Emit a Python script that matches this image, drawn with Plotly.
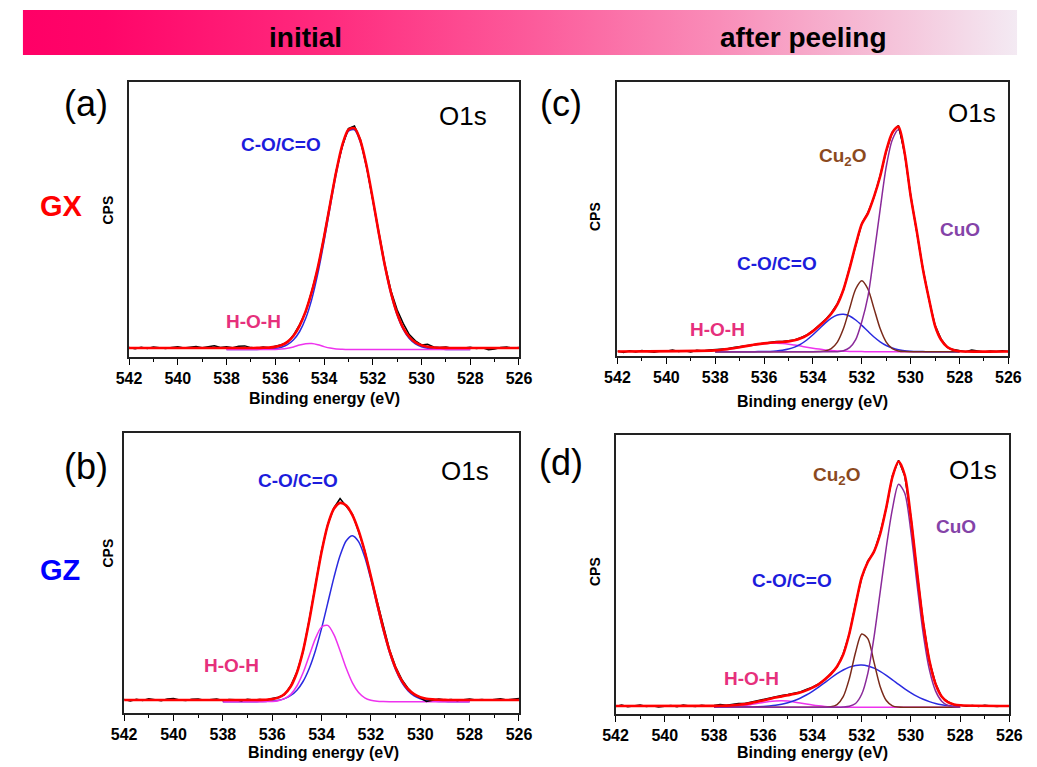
import plotly.graph_objects as go

W, H = 1037, 767
FONT = "Liberation Sans, Arial, sans-serif"

# ---------------- data ----------------
ENERGY_TICKS = [542, 540, 538, 536, 534, 532, 530, 528, 526]
MINOR_TICKS = [541, 539, 537, 535, 533, 531, 529, 527]

RAW_X = [542.0, 541.75, 541.5, 541.25, 541.0, 540.75, 540.5, 540.25, 540.0, 539.75,
         539.5, 539.25, 539.0, 538.75, 538.5, 538.25, 538.0, 537.75, 537.5, 537.25,
         537.0, 536.75, 536.5, 536.25, 536.0, 535.75, 535.5, 535.25, 535.0, 534.75,
         534.5, 534.25, 534.0, 533.75, 533.5, 533.25, 533.0, 532.75, 532.5, 532.25,
         532.0, 531.75, 531.5, 531.25, 531.0, 530.75, 530.5, 530.25, 530.0, 529.75,
         529.5, 529.25, 529.0, 528.75, 528.5, 528.25, 528.0, 527.75, 527.5, 527.25,
         527.0, 526.75, 526.5, 526.25, 526.0]

FIT_X = [538.0, 537.75, 537.5, 537.25, 537.0, 536.75, 536.5, 536.25, 536.0, 535.75,
         535.5, 535.25, 535.0, 534.75, 534.5, 534.25, 534.0, 533.75, 533.5, 533.25,
         533.0, 532.75, 532.5, 532.25, 532.0, 531.75, 531.5, 531.25, 531.0, 530.75,
         530.5, 530.25, 530.0, 529.75, 529.5, 529.25, 529.0, 528.75, 528.5, 528.25,
         528.0]
X_START, X_END = 542.0, 526.0

# ---- panel (a): GX initial ----
A_BASE = 9.0
A_RAW = [9.5, 8.2, 9.8, 8.6, 9.9, 9.1, 8.4, 9.6, 10.2, 9.0,
         9.7, 10.4, 9.3, 10.1, 11.2, 9.6, 10.3, 9.2, 10.8, 11.1,
         9.4, 8.8, 9.9, 9.2, 10.6, 12.3, 14.6, 21.9, 32.5, 45.1,
         66.0, 89.2, 120.5, 152.0, 186.4, 211.0, 228.5, 231.0, 216.9, 190.1,
         159.2, 124.8, 92.4, 66.0, 47.3, 33.6, 22.5, 16.2, 12.1, 12.8,
         10.0, 9.4, 10.1, 8.7, 9.3, 8.9, 9.8, 8.5, 9.2, 7.3,
         8.1, 9.6, 9.9, 8.8, 9.4]
A_FIT = [9.0, 9.0, 9.0, 9.0, 9.0, 9.1, 9.2, 9.4, 10.1, 11.7,
         15.1, 21.3, 31.4, 45.9, 65.3, 90.0, 119.7, 152.8, 185.2, 211.8,
         227.3, 228.8, 215.8, 190.8, 158.3, 123.6, 91.2, 64.1, 43.5, 29.2,
         20.0, 14.6, 11.7, 10.2, 9.5, 9.2, 9.1, 9.0, 9.0, 9.0,
         9.0]
A_CO = [7.5, 7.5, 7.5, 7.5, 7.5, 7.6, 7.7, 7.9, 8.5, 9.8,
        12.4, 17.2, 25.5, 38.7, 57.9, 83.8, 115.3, 149.9, 183.2, 210.1,
        225.8, 227.3, 214.3, 189.3, 156.8, 122.1, 89.7, 62.6, 42.0, 27.7,
        18.5, 13.1, 10.2, 8.7, 8.0, 7.7, 7.6, 7.5, 7.5, 7.5,
        7.5]
A_HOH = [7.5, 7.5, 7.5, 7.5, 7.5, 7.5, 7.5, 7.5, 7.6, 7.9,
         8.7, 10.1, 11.9, 13.2, 13.4, 12.2, 10.4, 8.9, 8.0, 7.7,
         7.5, 7.5, 7.5, 7.5, 7.5, 7.5, 7.5, 7.5, 7.5, 7.5,
         7.5, 7.5, 7.5, 7.5, 7.5, 7.5, 7.5, 7.5, 7.5, 7.5,
         7.5]

# ---- panel (b): GZ initial ----
B_BASE = 13.0
B_RAW = [13.4, 12.1, 13.8, 12.6, 14.2, 13.0, 12.2, 13.9, 14.4, 13.1,
         12.5, 13.7, 14.1, 12.8, 13.3, 14.0, 12.4, 13.6, 13.2, 12.3,
         13.8, 12.9, 13.5, 12.8, 14.6, 15.8, 18.4, 27.3, 40.9, 61.3,
         93.0, 126.5, 162.4, 188.6, 205.1, 214.5, 206.8, 198.9, 181.6, 162.3,
         136.0, 111.2, 85.3, 63.5, 46.2, 33.6, 24.7, 18.3, 15.2, 11.6,
         12.8, 13.9, 12.9, 13.5, 12.6, 13.3, 14.1, 12.9, 13.4, 12.7,
         13.6, 14.2, 13.1, 13.8, 14.6]
B_FIT = [13.0, 13.0, 13.0, 13.0, 13.0, 13.0, 13.1, 13.3, 13.9, 15.4,
         19.1, 26.5, 40.2, 62.1, 92.2, 127.1, 161.0, 187.9, 204.2, 210.1,
         207.4, 197.9, 182.3, 161.5, 136.5, 109.9, 84.5, 62.4, 45.0, 32.4,
         24.0, 18.8, 15.9, 14.3, 13.6, 13.2, 13.1, 13.0, 13.0, 13.0,
         13.0]
B_CO = [11.3, 11.3, 11.3, 11.3, 11.3, 11.3, 11.4, 11.6, 11.9, 12.7,
        14.4, 17.5, 22.8, 31.5, 44.5, 62.3, 84.6, 109.9, 135.4, 157.4,
        172.3, 177.3, 171.4, 155.9, 133.4, 107.8, 82.7, 60.7, 43.3, 30.7,
        22.3, 17.1, 14.2, 12.6, 11.9, 11.5, 11.4, 11.3, 11.3, 11.3,
        11.3]
B_HOH = [11.3, 11.3, 11.3, 11.3, 11.3, 11.3, 11.3, 11.4, 11.6, 12.3,
         14.3, 18.6, 27.0, 40.2, 57.3, 74.4, 86.0, 87.6, 78.4, 62.3,
         44.7, 30.2, 20.5, 15.2, 12.7, 11.7, 11.4, 11.3, 11.3, 11.3,
         11.3, 11.3, 11.3, 11.3, 11.3, 11.3, 11.3, 11.3, 11.3, 11.3,
         11.3]

# ---- panel (c): GX after peeling ----
C_BASE = 4.5
C_RAW = [4.9, 3.6, 5.2, 4.1, 5.4, 4.6, 3.8, 5.1, 4.7, 6.0,
         4.4, 5.3, 4.0, 5.7, 5.0, 5.9, 6.1, 6.8, 7.2, 8.4,
         9.3, 10.2, 11.6, 12.3, 13.4, 13.6, 14.5, 14.6, 15.4, 16.1,
         18.2, 21.0, 25.3, 30.6, 36.1, 43.0, 52.4, 66.0, 88.3, 110.6,
         132.5, 143.4, 158.7, 180.2, 204.8, 223.9, 230.6, 203.1, 160.8, 124.0,
         87.6, 56.4, 30.7, 16.8, 8.6, 6.4, 5.5, 4.2, 6.0, 4.8,
         3.9, 5.0, 4.4, 5.3, 4.6]
C_FIT = [5.6, 6.2, 6.9, 7.8, 8.8, 9.9, 10.9, 11.9, 12.6, 13.2,
         13.7, 14.0, 14.6, 15.7, 17.7, 20.7, 24.9, 30.0, 35.7, 42.3,
         51.6, 66.5, 87.6, 111.1, 131.9, 142.6, 159.3, 179.5, 205.3, 223.3,
         229.3, 203.6, 160.0, 124.7, 87.1, 57.0, 30.0, 16.0, 9.0, 6.0,
         4.8]
C_CUO = [4.3, 4.3, 4.3, 4.3, 4.3, 4.3, 4.3, 4.3, 4.3, 4.3,
         4.3, 4.3, 4.3, 4.3, 4.3, 4.3, 4.3, 4.3, 4.3, 4.3,
         4.3, 5.3, 8.3, 16.3, 34.3, 59.3, 101.3, 146.3, 189.3, 216.3,
         226.3, 202.3, 159.3, 124.3, 86.8, 56.8, 29.8, 15.8, 8.8, 5.8,
         4.6]
C_CU2O = [4.3, 4.3, 4.3, 4.3, 4.3, 4.3, 4.3, 4.3, 4.3, 4.3,
          4.3, 4.3, 4.3, 4.3, 4.3, 4.3, 4.3, 4.5, 5.1, 7.4,
          13.9, 27.4, 47.4, 67.0, 75.3, 67.0, 47.4, 27.4, 13.9, 7.4,
          5.1, 4.4, 4.3, 4.3, 4.3, 4.3, 4.3, 4.3, 4.3, 4.3,
          4.3]
C_CO = [4.3, 4.3, 4.3, 4.3, 4.3, 4.3, 4.3, 4.4, 4.4, 4.6,
        5.0, 5.7, 6.9, 8.9, 11.9, 16.0, 21.2, 27.0, 32.9, 37.8,
        41.0, 41.7, 40.0, 36.0, 30.6, 24.7, 19.0, 14.2, 10.5, 8.0,
        6.3, 5.3, 4.8, 4.5, 4.4, 4.3, 4.3, 4.3, 4.3, 4.3,
        4.3]
C_HOH = [5.4, 6.0, 6.7, 7.6, 8.6, 9.7, 10.7, 11.6, 12.3, 12.7,
         12.8, 12.4, 11.8, 10.9, 9.9, 8.8, 7.8, 6.9, 6.1, 5.5,
         5.1, 4.8, 4.6, 4.5, 4.4, 4.3, 4.3, 4.3, 4.3, 4.3,
         4.3, 4.3, 4.3, 4.3, 4.3, 4.3, 4.3, 4.3, 4.3, 4.3,
         4.3]

# ---- panel (d): GZ after peeling ----
D_BASE = 8.0
D_RAW = [7.6, 8.9, 7.2, 8.4, 9.1, 7.5, 8.2, 6.9, 7.8, 8.6,
         7.3, 9.0, 8.1, 7.4, 8.8, 7.9, 8.5, 9.4, 8.8, 9.9,
         10.4, 10.6, 12.0, 13.3, 14.5, 16.1, 17.0, 18.6, 19.4, 20.9,
         22.1, 24.5, 26.9, 30.2, 34.0, 40.8, 47.0, 60.2, 80.1, 110.3,
         135.9, 153.1, 161.8, 181.0, 205.9, 238.2, 253.8, 238.1, 197.2, 141.3,
         91.8, 53.0, 30.8, 16.9, 12.4, 9.2, 8.9, 7.8, 8.4, 7.6,
         8.8, 8.1, 7.4, 8.3, 7.9]
D_FIT = [8.1, 8.2, 8.4, 8.7, 9.2, 9.9, 10.9, 12.2, 13.6, 15.0,
         16.4, 17.6, 18.8, 20.0, 21.5, 23.6, 26.3, 29.7, 34.5, 40.0,
         47.5, 59.5, 80.5, 109.0, 136.6, 152.0, 162.4, 179.8, 206.6, 237.0,
         252.5, 239.0, 196.0, 142.0, 91.0, 53.5, 30.0, 17.5, 11.8, 9.6,
         8.7]
D_CUO = [6.7, 6.7, 6.7, 6.7, 6.7, 6.7, 6.7, 6.7, 6.7, 6.7,
         6.7, 6.7, 6.7, 6.7, 6.7, 6.7, 6.7, 6.7, 6.7, 6.7,
         6.7, 7.0, 7.8, 10.5, 19.7, 40.7, 76.7, 121.7, 166.7, 205.2,
         229.7, 220.7, 182.2, 129.7, 80.3, 44.3, 23.1, 12.8, 8.6, 7.2,
         6.8]
D_CU2O = [6.7, 6.7, 6.7, 6.7, 6.7, 6.7, 6.7, 6.7, 6.7, 6.7,
          6.7, 6.7, 6.7, 6.7, 6.7, 6.7, 6.7, 6.7, 6.8, 7.2,
          9.4, 17.3, 35.5, 61.5, 80.0, 75.4, 51.9, 27.6, 13.5, 8.2,
          6.9, 6.7, 6.7, 6.7, 6.7, 6.7, 6.7, 6.7, 6.7, 6.7,
          6.7]
D_CO = [6.7, 6.7, 6.7, 6.8, 6.8, 6.9, 7.0, 7.2, 7.5, 8.0,
        8.7, 9.8, 11.3, 13.3, 15.8, 19.0, 22.7, 26.9, 31.4, 36.0,
        40.3, 44.0, 46.9, 48.6, 49.0, 48.0, 45.9, 42.6, 38.6, 34.2,
        29.6, 25.2, 21.2, 17.7, 14.8, 12.4, 10.6, 9.3, 8.4, 7.8,
        7.3]
D_HOH = [6.8, 6.9, 7.0, 7.3, 7.8, 8.5, 9.4, 10.4, 11.5, 12.4,
         13.0, 13.2, 12.9, 12.1, 11.1, 10.0, 9.0, 8.2, 7.6, 7.2,
         6.9, 6.8, 6.7, 6.7, 6.7, 6.7, 6.7, 6.7, 6.7, 6.7,
         6.7, 6.7, 6.7, 6.7, 6.7, 6.7, 6.7, 6.7, 6.7, 6.7,
         6.7]

BANNER_COLORS = [[0.0, "#ff0066"], [0.08, "#ff0569"], [0.3, "#ff2b7e"],
                 [0.5, "#fc5b9b"], [0.68, "#f98cb8"], [0.85, "#f5c2d9"],
                 [1.0, "#f3f2f8"]]

# ---------------- styling ----------------
RED = "#ff0000"
BLACK = "#000000"
C_BLUE = "#2a2ae0"
C_PINK = "#ee33ee"
C_BROWN = "#7a2a1a"
C_PURPLE = "#8a2a9a"
T_BLUE = "#1c1cdc"
T_PINK = "#e6307c"
T_BROWN = "#8b4a1e"
T_PURPLE = "#8443a8"


def px_x(v):
    return v / W


def px_y(v):
    return 1 - v / H


# panel boxes in pixels: (left, right, top, bottom)
BOXES = {
    "a": (119, 519, 82, 357),
    "b": (114, 519, 433, 713),
    "c": (620, 1021, 82, 356),
    "d": (618, 1022, 435, 714),
}
AXIS_IDS = {"a": ("x", "y", ""), "b": ("x2", "y2", "2"),
            "c": ("x3", "y3", "3"), "d": ("x4", "y4", "4")}

fig = go.Figure()
layout_axes = {}

panels = {
    "a": dict(base=A_BASE, raw=A_RAW, fit=A_FIT,
              comps=[(A_CO, C_BLUE), (A_HOH, C_PINK)]),
    "b": dict(base=B_BASE, raw=B_RAW, fit=B_FIT,
              comps=[(B_CO, C_BLUE), (B_HOH, C_PINK)]),
    "c": dict(base=C_BASE, raw=C_RAW, fit=C_FIT,
              comps=[(C_HOH, C_PINK), (C_CO, C_BLUE), (C_CU2O, C_BROWN), (C_CUO, C_PURPLE)]),
    "d": dict(base=D_BASE, raw=D_RAW, fit=D_FIT,
              comps=[(D_HOH, C_PINK), (D_CO, C_BLUE), (D_CU2O, C_BROWN), (D_CUO, C_PURPLE)]),
}

for key, p in panels.items():
    xa, ya, suf = AXIS_IDS[key]
    l, r, t, b = BOXES[key]
    for comp, col in p["comps"]:
        fig.add_trace(go.Scatter(x=FIT_X, y=comp, mode="lines",
                                 line=dict(color=col, width=1.5, shape="spline", smoothing=0.8),
                                 xaxis=xa, yaxis=ya, showlegend=False, hoverinfo="skip"))
    fig.add_trace(go.Scatter(x=RAW_X, y=p["raw"], mode="lines",
                             line=dict(color=BLACK, width=1.5),
                             xaxis=xa, yaxis=ya, showlegend=False, hoverinfo="skip"))
    fig.add_trace(go.Scatter(x=[X_START] + FIT_X + [X_END],
                             y=[p["base"]] + p["fit"] + [p["base"]], mode="lines",
                             line=dict(color=RED, width=2.6, shape="spline", smoothing=0.8),
                             xaxis=xa, yaxis=ya, showlegend=False, hoverinfo="skip"))
    layout_axes["xaxis" + suf] = dict(
        domain=[px_x(l), px_x(r)], range=[542, 526], anchor=ya,
        tickvals=ENERGY_TICKS, ticks="outside", ticklen=6, tickwidth=1.3, tickcolor=BLACK,
        minor=dict(tickvals=MINOR_TICKS, ticks="outside", ticklen=3, tickwidth=1, tickcolor=BLACK),
        showline=True, linecolor="#222222", linewidth=1.6, mirror=True,
        showgrid=False, zeroline=False, fixedrange=True,
        tickfont=dict(family=FONT, size=16, color=BLACK, weight="bold"))
    layout_axes["yaxis" + suf] = dict(
        domain=[px_y(b), px_y(t)], range=[0, b - t], anchor=xa,
        showline=True, linecolor="#222222", linewidth=1.6, mirror=True,
        ticks="", showticklabels=False, showgrid=False, zeroline=False, fixedrange=True)

# banner with horizontal gradient
fig.add_trace(go.Scatter(x=[0, 1, 1, 0, 0], y=[0, 0, 1, 1, 0], mode="lines",
                         fill="toself", line=dict(width=0, color="rgba(0,0,0,0)"),
                         fillgradient=dict(type="horizontal", colorscale=BANNER_COLORS,
                                           start=0, stop=1),
                         xaxis="x5", yaxis="y5", showlegend=False, hoverinfo="skip"))
layout_axes["xaxis5"] = dict(domain=[px_x(10), px_x(1030)], range=[0, 1], visible=False,
                             fixedrange=True, anchor="y5")
layout_axes["yaxis5"] = dict(domain=[px_y(55), px_y(10)], range=[0, 1], visible=False,
                             fixedrange=True, anchor="x5")

annotations = []


def add_text(text, x, y, size, color=BLACK, bold=False, angle=0):
    annotations.append(dict(text=text, x=px_x(x), y=px_y(y), xref="paper", yref="paper",
                            xanchor="center", yanchor="middle", showarrow=False,
                            textangle=angle,
                            font=dict(family=FONT, size=size, color=color,
                                      weight="bold" if bold else "normal")))


add_text("initial", 300, 37, 28, bold=True)
add_text("after peeling", 810, 37, 28, bold=True)

for lab, (x, y) in {"(a)": (75, 103), "(b)": (75, 467), "(c)": (562, 103), "(d)": (562, 462)}.items():
    add_text(lab, x, y, 36)

add_text("GX", 50, 206, 29, color="#ff0000", bold=True)
add_text("GZ", 48, 570, 29, color="#0000ff", bold=True)

for (x, y) in [(97, 210), (97, 553), (597, 217), (597, 572)]:
    add_text("CPS", x, y, 14, bold=True, angle=-90)

for (x, y) in [(462, 116), (464, 471), (984, 113), (985, 470)]:
    add_text("O1s", x, y, 26)

for (x, y) in [(319, 398), (318, 752), (820, 402), (820, 752)]:
    add_text("Binding energy (eV)", x, y, 16, bold=True)

# peak labels
add_text("C-O/C=O", 275, 144, 19, color=T_BLUE, bold=True)
add_text("H-O-H", 247, 321, 19, color=T_PINK, bold=True)
add_text("C-O/C=O", 292, 480, 19, color=T_BLUE, bold=True)
add_text("H-O-H", 224, 665, 19, color=T_PINK, bold=True)
add_text("Cu<sub>2</sub>O", 851, 157, 19, color=T_BROWN, bold=True)
add_text("CuO", 971, 230, 19, color=T_PURPLE, bold=True)
add_text("C-O/C=O", 784, 263, 19, color=T_BLUE, bold=True)
add_text("H-O-H", 723, 330, 19, color=T_PINK, bold=True)
add_text("Cu<sub>2</sub>O", 845, 476, 19, color=T_BROWN, bold=True)
add_text("CuO", 967, 526, 19, color=T_PURPLE, bold=True)
add_text("C-O/C=O", 799, 580, 19, color=T_BLUE, bold=True)
add_text("H-O-H", 757, 678, 19, color=T_PINK, bold=True)

fig.update_layout(width=W, height=H, margin=dict(l=0, r=0, t=0, b=0),
                  paper_bgcolor="white", plot_bgcolor="rgba(0,0,0,0)",
                  annotations=annotations, showlegend=False, **layout_axes)

fig.write_html("out.html", config={"displayModeBar": False})
